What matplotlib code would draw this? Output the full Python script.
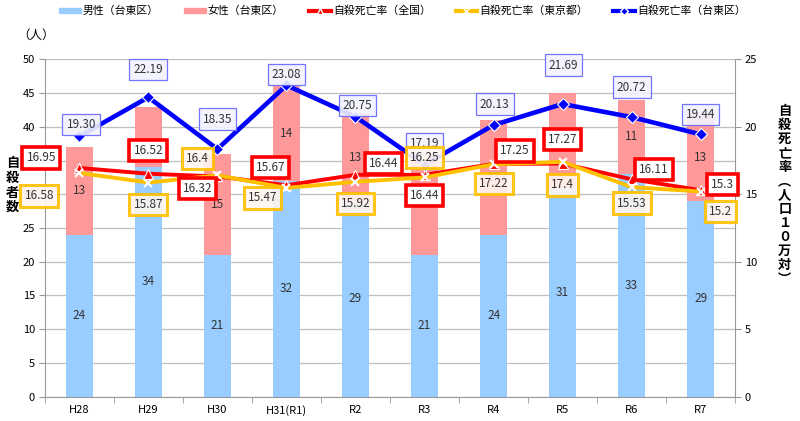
import numpy as np
import matplotlib.pyplot as plt
from matplotlib.patches import Patch
from matplotlib.lines import Line2D

plt.rcParams['font.family'] = ['Noto Sans CJK JP', 'DejaVu Sans']

years = ['H28', 'H29', 'H30', 'H31(R1)', 'R2', 'R3', 'R4', 'R5', 'R6', 'R7']
male = [24, 34, 21, 32, 29, 21, 24, 31, 33, 29]
female = [13, 9, 15, 14, 13, 14, 17, 14, 11, 13]
female_shown = ['13', '', '15', '14', '13', '', '17', '14', '11', '13']

rate_japan = [16.95, 16.52, 16.32, 15.67, 16.44, 16.44, 17.25, 17.27, 16.11, 15.3]
rate_tokyo = [16.58, 15.87, 16.4, 15.47, 15.92, 16.25, 17.22, 17.4, 15.53, 15.2]
rate_taito = [19.30, 22.19, 18.35, 23.08, 20.75, 17.19, 20.13, 21.69, 20.72, 19.44]
taito_text = ['19.30', '22.19', '18.35', '23.08', '20.75', '17.19', '20.13', '21.69', '20.72', '19.44']

# label offsets in pixels (hand placed, like the original)
off_japan = [(-38, 10), (0, 23), (-20, -12), (-16, 18), (28, 11),
             (0, -21), (21, 13), (0, 24), (22, 10), (22, 6)]
off_tokyo = [(-40, -23), (0, -22), (-20, 17), (-24, -10), (0, -22),
             (0, 20), (0, -19), (0, -23), (0, -16), (20, -20)]
off_taito = [(2, 12), (0, 28), (0, 30), (0, 11), (2, 11),
             (0, 21), (1, 21), (1, 39), (0, 30), (0, 20)]

c_male = '#99CCFF'
c_female = '#FF9999'
c_red = '#FF0000'
c_yel = '#FFC000'
c_blue = '#0000FF'

fig = plt.figure(figsize=(8, 4.21), dpi=100)
ax = fig.add_axes([0.056, 0.058, 0.863, 0.801])
x = np.arange(len(years))

ax.bar(x, male, 0.4, color=c_male, zorder=2)
ax.bar(x, female, 0.4, bottom=male, color=c_female, zorder=2)
for i in range(len(x)):
    ax.text(x[i], male[i] / 2, str(male[i]), ha='center', va='center',
            fontsize=8.5, color='#333333', zorder=3)
    if female_shown[i]:
        ax.text(x[i], male[i] + female[i] / 2, female_shown[i], ha='center',
                va='center', fontsize=8.5, color='#333333', zorder=3)

ax.set_xlim(-0.5, len(years) - 0.5)
ax.set_ylim(0, 50)
ax.set_yticks(range(0, 51, 5))
ax.set_xticks(x)
ax.set_xticklabels(years)
ax.set_xticks(np.arange(-0.5, len(years), 1), minor=True)
ax.tick_params(axis='x', which='major', length=0, labelsize=8, pad=6)
ax.tick_params(axis='x', which='minor', length=4, color='#999999')
ax.tick_params(axis='y', labelsize=8, length=4, color='#999999', pad=3)
ax.grid(axis='y', color='#bfbfbf', linewidth=0.9, zorder=0)
ax.set_axisbelow(True)
for s in ['top', 'right']:
    ax.spines[s].set_visible(False)
for s in ['left', 'bottom']:
    ax.spines[s].set_color('#999999')

ax2 = ax.twinx()
ax2.set_ylim(0, 25)
ax2.set_yticks(range(0, 26, 5))
ax2.tick_params(axis='y', labelsize=8, length=4, color='#999999', pad=3)
for s in ['top', 'left', 'bottom']:
    ax2.spines[s].set_visible(False)
ax2.spines['right'].set_color('#999999')

ax2.plot(x, rate_japan, color=c_red, lw=2.8, marker='^', ms=7,
         mfc=c_red, mec='white', mew=0.8, zorder=4)
ax2.plot(x, rate_tokyo, color=c_yel, lw=2.8, marker='x', ms=6,
         mec='white', mew=1.5, zorder=5)
ax2.plot(x, rate_taito, color=c_blue, lw=3.3, marker='D', ms=6,
         mfc=c_blue, mec='white', mew=0.8, zorder=6)

for i in range(len(x)):
    ax2.annotate(taito_text[i], (x[i], rate_taito[i]), xytext=off_taito[i],
                 textcoords='offset pixels', ha='center', va='center',
                 fontsize=8.5, color='#333333', zorder=7,
                 bbox=dict(boxstyle='square,pad=0.35', fc='#F2F3FF', ec='#6666FF', lw=0.9, alpha=0.9))
    ax2.annotate('%g' % rate_japan[i], (x[i], rate_japan[i]), xytext=off_japan[i],
                 textcoords='offset pixels', ha='center', va='center',
                 fontsize=8.5, color='#333333', zorder=8,
                 bbox=dict(boxstyle='square,pad=0.35', fc='white', ec=c_red, lw=2.6))
    ax2.annotate('%g' % rate_tokyo[i], (x[i], rate_tokyo[i]), xytext=off_tokyo[i],
                 textcoords='offset pixels', ha='center', va='center',
                 fontsize=8.5, color='#333333', zorder=8,
                 bbox=dict(boxstyle='square,pad=0.35', fc='#FFF6F0', ec=c_yel, lw=2.2, alpha=0.9))

fig.text(0.022, 0.917, '（人）', fontsize=9, ha='left', va='center')
fig.text(0.016, 0.56, '\n'.join('自殺者数'), fontsize=9.5, fontweight='bold',
         ha='center', va='center', linespacing=1.05)
fig.text(0.981, 0.537, '\n'.join('自殺死亡率︵人口１０万対︶'), fontsize=9.5,
         fontweight='bold', ha='center', va='center', linespacing=1.0)

handles = [Patch(color=c_male), Patch(color=c_female),
           Line2D([], [], color=c_red, lw=3, marker='^', ms=5, mfc=c_red, mec='white'),
           Line2D([], [], color=c_yel, lw=3, marker='x', ms=5, mec='white'),
           Line2D([], [], color=c_blue, lw=3, marker='D', ms=4, mfc=c_blue, mec='white')]
labels = ['男性（台東区）', '女性（台東区）', '自殺死亡率（全国）', '自殺死亡率（東京都）', '自殺死亡率（台東区）']
fig.legend(handles, labels, loc='center', bbox_to_anchor=(0.503, 0.974), ncol=5,
           frameon=False, fontsize=7.8, handlelength=2.0, handleheight=0.35,
           handletextpad=0.2, columnspacing=2.3)

fig.savefig('out.png', dpi=100)
